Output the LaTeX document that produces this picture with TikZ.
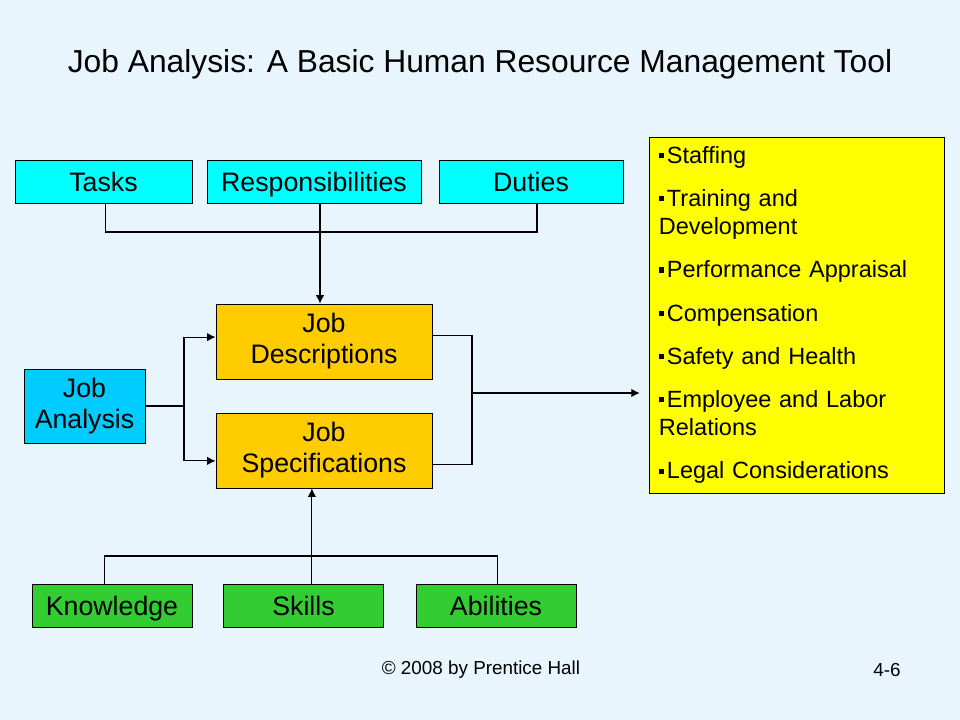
\documentclass[tikz,border=0pt]{standalone}
\usepackage{fontspec}
\setmainfont{Liberation Sans}
\usetikzlibrary{arrows.meta}
\definecolor{bgblue}{RGB}{232,245,253}
\definecolor{topcyan}{RGB}{0,255,255}
\definecolor{jobyellow}{RGB}{255,204,0}
\definecolor{hrmyellow}{RGB}{255,255,0}
\definecolor{skillgreen}{RGB}{51,204,51}
\definecolor{anablue}{RGB}{0,204,255}
\newcommand{\sqb}{\raisebox{0.42ex}{\rule{0.22em}{0.22em}}\hspace{0.12em}}

\begin{document}
\begin{tikzpicture}[>={Latex[length=6pt,width=6pt]}, x=0.025cm, y=-0.025cm, line width=0.8pt,
  box/.style={draw=black, line width=0.6pt, inner sep=0pt, align=center,
    font=\fontsize{19}{22}\selectfont},
  top/.style={box, fill=topcyan, minimum height=1.075cm, text height=13.6pt, text depth=0pt},
  mid/.style={box, fill=jobyellow, minimum width=5.4cm, minimum height=1.875cm},
  bot/.style={box, fill=skillgreen, minimum width=4cm, minimum height=1.075cm, text height=13.6pt, text depth=0pt},
  hrm/.style={draw=black, line width=0.6pt, fill=hrmyellow, align=left,
    text width=6.875cm, inner xsep=0.25cm, minimum height=8.9cm,
    font=\fontsize{16.7}{19.9}\selectfont}]
\fill[bgblue] (0,0) rectangle (960,720);
\useasboundingbox (0,0) rectangle (960,720);

\node at (480,64) (title) {\fontsize{22.6}{26}\selectfont Job Analysis: A Basic Human Resource Management Tool};

\node[top, minimum width=4.425cm] at (103.5,181.5) (Tasks) {Tasks};
\node[top, minimum width=5.35cm] at (314,181.5) (Resp) {Responsibilities};
\node[top, minimum width=4.6cm] at (531,181.5) (Duties) {Duties};

\node[mid] at (324,341.5) (JD) {Job\\Descriptions};
\node[mid] at (324,450.5) (JS) {Job\\Specifications};
\node[box, fill=anablue, minimum width=3.025cm, minimum height=1.85cm] at (84.5,406) (JA) {Job\\Analysis};

\node[bot] at (112,605.5) (Know) {Knowledge};
\node[bot] at (303.5,605.5) (Skills) {Skills};
\node[bot] at (496,605.5) (Abil) {Abilities};

\node[hrm] at (796.5,315) (HRM) {\sqb Staffing\\[10.9pt]
\sqb Training and\\Development\\[10.9pt]
\sqb Performance Appraisal\\[10.9pt]
\sqb Compensation\\[10.9pt]
\sqb Safety and Health\\[10.9pt]
\sqb Employee and Labor\\Relations\\[10.9pt]
\sqb Legal Considerations};

\node at (481,670) (copy) {\fontsize{13.4}{16}\selectfont \textcopyright{} 2008 by Prentice Hall};
\node at (887,670) (page) {\fontsize{13.4}{16}\selectfont 4-6};

\coordinate (topbus) at (0,232);
\coordinate (botbus) at (0,556);
\coordinate (split) at (184,406);
\coordinate (merge) at (472,393);

% tasks, responsibilities, duties
\draw ([xshift=0.04cm]Tasks.south) -- ([xshift=0.04cm]Tasks.south |- topbus)
  -- ([xshift=0.15cm]Duties.south |- topbus) -- ([xshift=0.15cm]Duties.south);
\draw[->] ([xshift=0.15cm]Resp.south) -- ([xshift=0.15cm]Resp.south |- JD.north);

% knowledge, skills, abilities
\draw ([xshift=-0.19cm]Know.north) -- ([xshift=-0.19cm]Know.north |- botbus)
  -- ([xshift=0.03cm]Abil.north |- botbus) -- ([xshift=0.03cm]Abil.north);
\draw[->] ([xshift=0.21cm]Skills.north) -- ([xshift=0.21cm]Skills.north |- JS.south);

% job analysis split
\draw (JA.east) -- (split);
\draw[->] (split) |- ([yshift=0.11cm]JD.west);
\draw[->] (split) |- ([yshift=-0.26cm]JS.west);

% merge to hr functions
\draw ([yshift=0.14cm]JD.east) -| (merge);
\draw ([yshift=-0.34cm]JS.east) -| (merge);
\draw[->, shorten >=0.22cm] (merge) -- (merge -| HRM.west);
\end{tikzpicture}
\end{document}
